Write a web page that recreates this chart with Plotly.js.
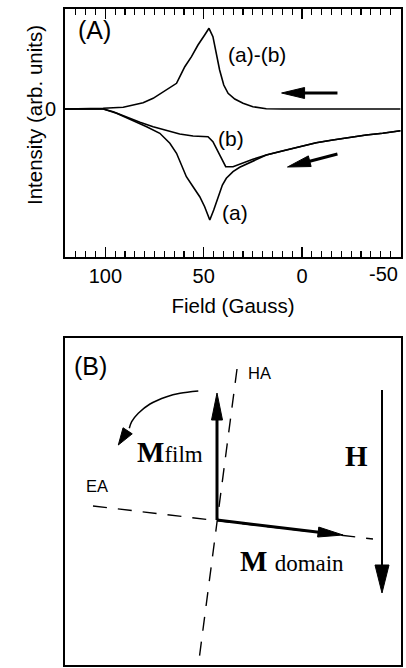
<!DOCTYPE html>
<html><head><meta charset="utf-8">
<script src="https://cdn.plot.ly/plotly-3.0.1.min.js"></script>
<style>html,body{margin:0;padding:0;background:#fff}#chart{width:406px;height:668px}</style>
</head><body><div id="chart"></div>
<script>
// ---------- Panel A data (Field in Gauss, Intensity in arb. units) ----------
const fieldA = [120.5, 110, 101, 94.3, 85.8, 79, 72.3, 67.2, 63.8, 61.3, 58.8, 55.4, 52, 49.5, 46.9, 44.9, 42.7, 40.5, 38.5, 35.1, 31.7, 27.5, 23.2, 18.2, 9.7, 1.3, -7.2, -15.6, -24.1, -32.6, -41, -49.5, -50];
const intA   = [0, 0, 0, -4.3, -11.7, -17.7, -24.3, -34.3, -44.3, -56, -67.7, -77.7, -87.7, -97.7, -111, -101, -87.7, -76, -69.3, -62.7, -58.3, -54.3, -50.3, -46, -41.7, -37.7, -33.7, -31, -28.3, -26, -24.3, -22, -21.8];
const fieldB = [120.5, 110, 101, 96, 89.2, 82.4, 75.7, 68.9, 62.2, 55.4, 47.8, 45.3, 42.7, 40.5, 38.8, 35.1, 31.7, 25, 18.2, 9.7, 1.3, -7.2, -15.6, -24.1, -32.6, -41, -49.5, -50];
const intB   = [0, 0, 0, -2.7, -8.3, -13.3, -17.7, -21, -25, -27, -27.7, -32.7, -42.7, -52.7, -57.7, -57.7, -55, -50.3, -46, -41.7, -37.7, -33.7, -31, -28.3, -26, -24.3, -22, -21.8];
const fieldD = [120.5, 110, 101.1, 90.9, 85.8, 80.8, 75.7, 68.9, 63.8, 61.3, 59.6, 56.2, 52.9, 49.5, 47.3, 45.3, 43.5, 41.9, 39.8, 37.6, 34.2, 30, 25, 18.2, 10, 0, -20, -50];
const intD   = [0, 0, 0.7, 1.7, 3.7, 6.3, 10.7, 19, 25.7, 35.7, 42.3, 52.3, 64, 74, 80.7, 72.3, 55.7, 39, 24, 15.7, 10, 5.7, 2.3, 0.3, 0, 0, 0, 0];

const xTickVals = [100, 50, 0, -50];
const xTickText = ['100', '50', '0', '-50'];
const xMinorStep = 5;
const yTickVals = [0];
const yTickText = ['0'];

const curveLabels = ['(a)-(b)', '(b)', '(a)'];
const curveLabelX = [22.8, 36, 34];
const curveLabelY = [55, -29.5, -103.5];

// sweep direction arrows (tail -> tip), panel A data units
const sweepTails = [[-18, 16], [-18, -45]];
const sweepTips  = [[10.4, 16], [7.4, -58]];

// ---------- Panel B diagram (panel units) ----------
const haLineX = [172, 134], haLineY = [296, 5];
const eaLineX = [28, 308],  eaLineY = [159, 126];
const vecOrigin  = [152, 145];
const mFilmTip   = [152, 272];
const mDomainTip = [278, 130];
const hTail = [317, 275], hTip = [317, 72];
const rotX = [133.3, 115, 101.7, 85, 73.3, 66.7, 64.3];
const rotY = [274, 271.7, 268.3, 261, 251.7, 243.3, 236.7];
const rotTip = [53.3, 220];

const diagLabels = ['(B)', 'HA', 'EA', '<b>M</b><span style="font-size:23px">film</span>',
                    '<b>M</b> <span style="font-size:23px">domain</span>', '<b>H</b>'];
const diagLabelX = [25.5, 194, 31.5, 104.5, 227, 291.5];
const diagLabelY = [299, 292, 179, 213, 104, 209];

// ---------- geometry ----------
const W = 406, H = 668, ML = 65, MR = 5, MT = 9, MB = 3;
const plotW = W - ML - MR, plotH = H - MT - MB;
const xRangeA = [120.5, -50.3], yRangeA = [-148, 100];
const pxA = [257, 9], pxB = [665, 338];
const domA = [(H - MB - pxA[0]) / plotH, 1];
const domB = [0, (H - MB - pxB[1]) / plotH];
const sxA = plotW / (xRangeA[1] - xRangeA[0]);
const syA = (domA[1] - domA[0]) * plotH / (yRangeA[1] - yRangeA[0]);
const xRangeB = [0, plotW], yRangeB = [0, (domB[1] - domB[0]) * plotH];

function arrowTraces(tail, tip, sx, sy, L, Wd, lw, xa, ya) {
  const dx = (tip[0] - tail[0]) * sx, dy = (tip[1] - tail[1]) * sy;
  const len = Math.hypot(dx, dy), ux = dx / len, uy = dy / len;
  const bx = -ux * L, by = -uy * L, nx = -uy * Wd, ny = ux * Wd;
  const X = p => tip[0] + p / sx, Y = q => tip[1] + q / sy;
  const common = {xaxis: xa, yaxis: ya, mode: 'lines', hoverinfo: 'skip', showlegend: false};
  return [
    Object.assign({x: [tail[0], X(bx + ux * 3)], y: [tail[1], Y(by + uy * 3)],
                   line: {color: '#000', width: lw}}, common),
    Object.assign({x: [tip[0], X(bx + nx), X(bx - nx), tip[0]],
                   y: [tip[1], Y(by + ny), Y(by - ny), tip[1]],
                   fill: 'toself', fillcolor: '#000', line: {color: '#000', width: 1}}, common)
  ];
}

const curveStyle = {color: '#000', width: 1.6};
const traces = [
  {x: fieldA, y: intA, mode: 'lines', line: curveStyle, name: '(a)', xaxis: 'x', yaxis: 'y'},
  {x: fieldB, y: intB, mode: 'lines', line: curveStyle, name: '(b)', xaxis: 'x', yaxis: 'y'},
  {x: fieldD, y: intD, mode: 'lines', line: curveStyle, name: '(a)-(b)', xaxis: 'x', yaxis: 'y'}
];
for (let i = 0; i < sweepTails.length; i++)
  traces.push(...arrowTraces(sweepTails[i], sweepTips[i], sxA, syA, 23, 5.5, 3, 'x', 'y'));

// Panel B
const dashStyle = {color: '#000', width: 1.4, dash: '14px,11px'};
traces.push({x: haLineX, y: haLineY, mode: 'lines', line: dashStyle, xaxis: 'x2', yaxis: 'y2', hoverinfo: 'skip'});
traces.push({x: eaLineX, y: eaLineY, mode: 'lines', line: dashStyle, xaxis: 'x2', yaxis: 'y2', hoverinfo: 'skip'});
traces.push(...arrowTraces(vecOrigin, mFilmTip, 1, 1, 27, 5.5, 3, 'x2', 'y2'));
traces.push(...arrowTraces(vecOrigin, mDomainTip, 1, 1, 25, 5, 3, 'x2', 'y2'));
traces.push(...arrowTraces(hTail, hTip, 1, 1, 28, 7, 2, 'x2', 'y2'));
traces.push({x: rotX, y: rotY, mode: 'lines', line: {color: '#000', width: 1.5, shape: 'spline'},
             xaxis: 'x2', yaxis: 'y2', hoverinfo: 'skip'});
traces.push(...arrowTraces([rotX[rotX.length - 1], rotY[rotY.length - 1]], rotTip, 1, 1, 17, 5.5, 1.5, 'x2', 'y2').slice(1));
traces.forEach(t => t.showlegend = false);

const sans = 'Liberation Sans, Arial, Helvetica, sans-serif';
const serif = 'Liberation Serif, Times New Roman, serif';
const tickFont = {family: sans, size: 20, color: '#000'};
const annotations = [];
annotations.push({text: '(A)', x: 105.5, y: 79, xref: 'x', yref: 'y', showarrow: false, font: {family: sans, size: 25, color: '#000'}});
curveLabels.forEach((t, i) => annotations.push({text: t, x: curveLabelX[i], y: curveLabelY[i], xref: 'x', yref: 'y',
  showarrow: false, font: {family: sans, size: 21, color: '#000'}}));
annotations.push({text: 'Intensity (arb. units)', textangle: -90, xref: 'paper', yref: 'paper',
  x: (34 - ML) / plotW, y: (H - MB - 115) / plotH, xanchor: 'center', yanchor: 'middle', showarrow: false,
  font: {family: sans, size: 20.5, color: '#000'}});
// last x tick label sits against the right edge: right-aligned on its tick
const lastTick = xTickVals.length - 1;
annotations.push({text: xTickText[lastTick], x: xTickVals[lastTick], xref: 'x', xanchor: 'right',
  yref: 'paper', y: domA[0], yanchor: 'top', yshift: -4, showarrow: false, font: tickFont});
diagLabels.forEach((t, i) => {
  const isSerif = i >= 3;
  const size = i === 0 ? 25 : (i < 3 ? 16.5 : 29);
  annotations.push({text: t, x: diagLabelX[i], y: diagLabelY[i], xref: 'x2', yref: 'y2', showarrow: false,
    font: {family: isSerif ? serif : sans, size: size, color: '#000'}});
});

const layout = {
  width: W, height: H, margin: {l: ML, r: MR, t: MT, b: MB, pad: 0},
  paper_bgcolor: '#fff', plot_bgcolor: '#fff', showlegend: false,
  xaxis: {domain: [0, 1], anchor: 'y', range: xRangeA, tickmode: 'array', tickvals: xTickVals,
    ticktext: xTickText.map((t, i) => i === lastTick ? '' : t),
    ticks: 'inside', ticklen: 10, tickwidth: 1.5, tickcolor: '#000', showline: true, linewidth: 2, linecolor: '#000',
    mirror: 'ticks', showgrid: false, zeroline: false,
    minor: {dtick: xMinorStep, tick0: 0, ticks: 'inside', ticklen: 6, tickwidth: 1.2, tickcolor: '#000', showgrid: false},
    tickfont: tickFont, ticklabelstandoff: 0,
    title: {text: 'Field (Gauss)', font: {family: sans, size: 20.5, color: '#000'}, standoff: 13}},
  yaxis: {domain: domA, anchor: 'x', range: yRangeA, tickmode: 'array', tickvals: yTickVals, ticktext: yTickText,
    ticks: '', showline: true, linewidth: 2, linecolor: '#000', mirror: true, showgrid: false, zeroline: false,
    tickfont: tickFont, ticklabelstandoff: 3},
  xaxis2: {domain: [0, 1], anchor: 'y2', range: xRangeB, showticklabels: false, ticks: '', showline: true,
    linewidth: 2, linecolor: '#000', mirror: true, showgrid: false, zeroline: false},
  yaxis2: {domain: domB, anchor: 'x2', range: yRangeB, showticklabels: false, ticks: '', showline: true,
    linewidth: 2, linecolor: '#000', mirror: true, showgrid: false, zeroline: false},
  annotations: annotations
};
Plotly.newPlot('chart', traces, layout, {staticPlot: true, displayModeBar: false});
</script></body></html>
